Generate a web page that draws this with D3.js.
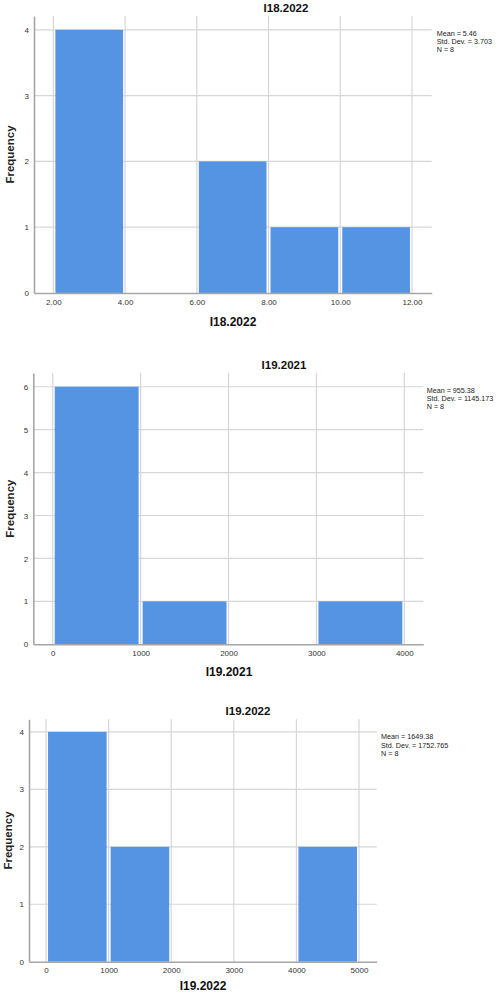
<!DOCTYPE html>
<html>
<head>
<meta charset="utf-8">
<script src="https://cdn.jsdelivr.net/npm/d3@7"></script>
<style>
  body { margin: 0; background: #fff; }
  svg { display: block; font-family: "Liberation Sans", Arial, sans-serif; }
</style>
</head>
<body>
<svg id="chart" width="499" height="993"></svg>
<script>
// three SPSS style histograms

var edges1 = [2, 4, 6, 8, 10, 12];
var counts1 = [4, 0, 2, 1, 1];
var xTicks1 = [2, 4, 6, 8, 10, 12];
var yTicks1 = [0, 1, 2, 3, 4];
var stats1 = ["Mean = 5.46", "Std. Dev. = 3.703", "N = 8"];

var edges2 = [0, 1000, 2000, 3000, 4000];
var counts2 = [6, 1, 0, 1];
var xTicks2 = [0, 1000, 2000, 3000, 4000];
var yTicks2 = [0, 1, 2, 3, 4, 5, 6];
var stats2 = ["Mean = 955.38", "Std. Dev. = 1145.173", "N = 8"];

var edges3 = [0, 1000, 2000, 3000, 4000, 5000];
var counts3 = [4, 2, 0, 0, 2];
var xTicks3 = [0, 1000, 2000, 3000, 4000, 5000];
var yTicks3 = [0, 1, 2, 3, 4];
var stats3 = ["Mean = 1649.38", "Std. Dev. = 1752.765", "N = 8"];

var svg = d3.select("#chart");

function histogram(opt) {
    var x = d3.scaleLinear().domain(opt.xDomain).range([opt.left, opt.right]);
    var y = d3.scaleLinear().domain(opt.yDomain).range([opt.bottom, opt.top]);
    var g = svg.append("g");

    // grid
    g.selectAll(".hgrid")
        .data(opt.yTicks.filter(d => d > 0))
        .enter().append("line")
        .attr("x1", opt.left)
        .attr("x2", opt.right)
        .attr("y1", d => y(d))
        .attr("y2", d => y(d))
        .attr("stroke", "#d6d6d6")
        .attr("stroke-width", 1.2);
    g.selectAll(".vgrid")
        .data(opt.xTicks)
        .enter().append("line")
        .attr("x1", d => x(d))
        .attr("x2", d => x(d))
        .attr("y1", opt.top)
        .attr("y2", opt.bottom)
        .attr("stroke", "#d6d6d6")
        .attr("stroke-width", 1.2);

    var bins = opt.counts.map((c, i) => ({ x0: opt.edges[i], x1: opt.edges[i + 1], n: c }))
        .filter(d => d.n > 0);
    g.selectAll(".bar")
        .data(bins)
        .enter().append("rect")
        .attr("x", d => x(d.x0) + 2)
        .attr("width", d => x(d.x1) - x(d.x0) - 4)
        .attr("y", d => y(d.n))
        .attr("height", d => y(0) - y(d.n))
        .attr("fill", "#5594e3");

    // axes
    var ya = g.append("g")
        .attr("transform", "translate(" + opt.left + ",0)")
        .call(d3.axisLeft(y).tickValues(opt.yTicks).tickSize(0).tickSizeOuter(0).tickPadding(5)
            .tickFormat(d3.format("d")));
    var xa = g.append("g")
        .attr("transform", "translate(0," + opt.bottom + ")")
        .call(d3.axisBottom(x).tickValues(opt.xTicks).tickSize(0).tickSizeOuter(0).tickPadding(6)
            .tickFormat(opt.fmt));
    [ya, xa].forEach(function (a) {
        a.select(".domain").attr("stroke", "#a6a6a6").attr("stroke-width", 1.6);
        a.selectAll("text").attr("font-size", "8px").attr("fill", "#333")
            .attr("font-family", "Liberation Sans, Arial, sans-serif");
    });

    g.append("text")
        .attr("x", opt.titleX)
        .attr("y", opt.top - 4)
        .attr("text-anchor", "middle")
        .attr("font-size", "11.5px")
        .attr("font-weight", "bold")
        .attr("fill", "#111")
        .text(opt.name);

    g.append("text")
        .attr("x", opt.labelX)
        .attr("y", opt.bottom + opt.labelDy)
        .attr("text-anchor", "middle")
        .attr("font-size", "12px")
        .attr("font-weight", "bold")
        .attr("fill", "#111")
        .text(opt.name);

    g.append("text")
        .attr("transform", "translate(" + opt.freqX + "," + ((opt.top + opt.bottom) / 2) + ") rotate(-90)")
        .attr("text-anchor", "middle")
        .attr("font-size", "11.5px")
        .attr("font-weight", "bold")
        .attr("fill", "#222")
        .text("Frequency");

    g.selectAll(".stat")
        .data(opt.stats)
        .enter().append("text")
        .attr("x", opt.right + opt.statDx)
        .attr("y", (d, i) => opt.top + 20 + i * 8.2)
        .attr("font-size", "7.2px")
        .attr("fill", "#222")
        .text(d => d);
}

histogram({
    name: "I18.2022", edges: edges1, counts: counts1, xTicks: xTicks1, yTicks: yTicks1, stats: stats1,
    fmt: d3.format(".2f"),
    xDomain: [1.46, 12.55], yDomain: [0, 4.21],
    left: 34, right: 431.7, top: 16, bottom: 293,
    titleX: 286, labelX: 233, labelDy: 33, freqX: 14, statDx: 5
});

histogram({
    name: "I19.2021", edges: edges2, counts: counts2, xTicks: xTicks2, yTicks: yTicks2, stats: stats2,
    fmt: d3.format("d"),
    xDomain: [-221, 4216], yDomain: [0, 6.32],
    left: 33.3, right: 423.3, top: 373, bottom: 644.3,
    titleX: 284, labelX: 229, labelDy: 32, freqX: 14, statDx: 3.4
});

histogram({
    name: "I19.2022", edges: edges3, counts: counts3, xTicks: xTicks3, yTicks: yTicks3, stats: stats3,
    fmt: d3.format("d"),
    xDomain: [-272, 5283], yDomain: [0, 4.22],
    left: 29, right: 376.7, top: 719.3, bottom: 961.7,
    titleX: 248, labelX: 203, labelDy: 28, freqX: 12, statDx: 4.3
});
</script>
</body>
</html>
